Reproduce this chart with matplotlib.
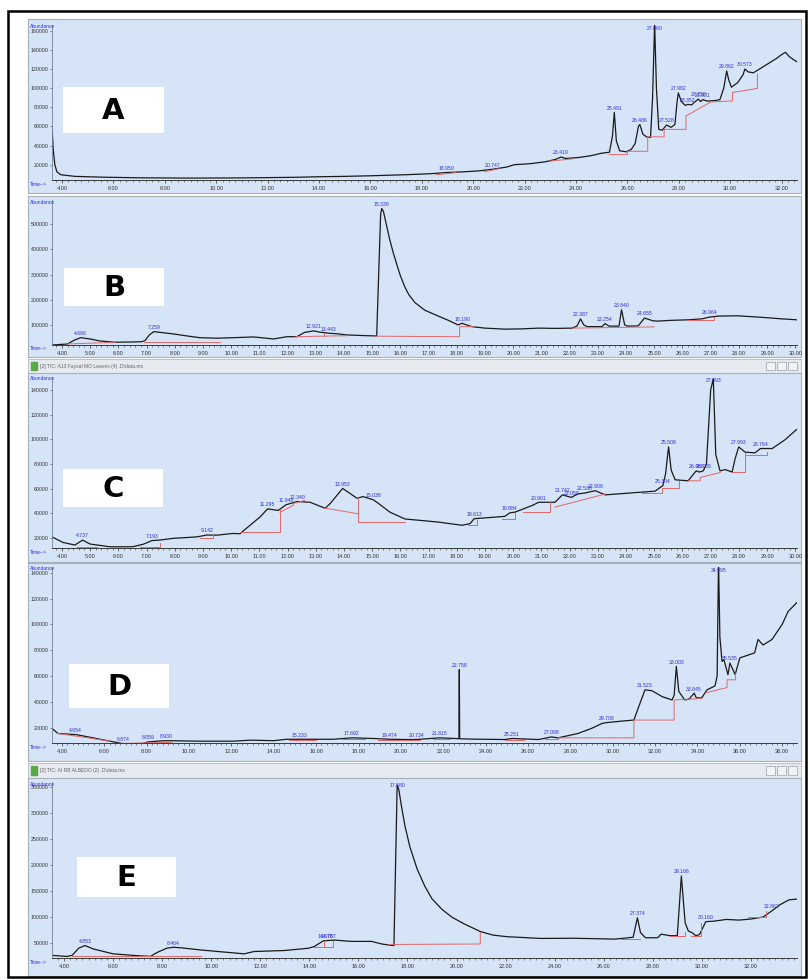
import numpy as np
import matplotlib.pyplot as plt
from matplotlib.patches import Rectangle
from matplotlib.ticker import MultipleLocator, FormatStrFormatter

plt.rcParams['font.family'] = ['Liberation Sans', 'DejaVu Sans']

# ---------------- data (retention time in min, abundance) ----------------
a_time = [3.61, 3.66, 3.72, 3.8, 3.95, 4.5, 5.5, 7, 9, 11, 12, 13, 14, 15, 16, 17.35, 18.3, 18.95,
          19.6, 20.2, 20.747, 21.3, 21.6, 22.2, 22.8, 23.2, 23.419, 23.6, 24.1, 24.6, 25.0, 25.3,
          25.42, 25.491, 25.57, 25.7, 25.95, 26.15, 26.3, 26.43, 26.486, 26.6, 26.75, 26.9, 26.98,
          27.06, 27.13, 27.22, 27.35, 27.528, 27.7, 27.85, 27.93, 27.982, 28.1, 28.25, 28.352, 28.5,
          28.6, 28.758, 28.85, 28.931, 29.1, 29.4, 29.6, 29.75, 29.862, 29.95, 30.05, 30.3, 30.5,
          30.573, 30.7, 30.9, 31.2, 31.5, 31.8, 32.0, 32.15, 32.3, 32.45, 32.6]
a_abund = [60000, 35000, 20000, 12600, 9500, 7800, 7000, 6300, 6000, 6200, 6500, 6800, 7400, 7800,
           8400, 9500, 10500, 11800, 12500, 13500, 15200, 17500, 20000, 21000, 23000, 25500, 28000,
           26500, 27500, 29500, 32000, 33000, 50000, 74700, 45000, 34500, 33500, 36000, 42000, 60000,
           62000, 52000, 49000, 48500, 90000, 168000, 100000, 57000, 56000, 61500, 59000, 62000, 85000,
           95000, 86000, 82000, 83000, 82500, 85000, 88500, 86000, 88000, 86500, 87000, 88000, 100000,
           118000, 108000, 101000, 106000, 114000, 120000, 117000, 116000, 121000, 126000, 131000,
           135000, 137500, 133000, 130000, 127500]
a_base = [([18.55, 19.33], [9500, 11700]),
          ([20.43, 21.0], [12600, 15800]),
          ([22.96, 23.87], [23700, 26100]),
          ([25.29, 26.0, 26.0, 26.79, 26.79, 27.43, 27.43, 28.28, 28.28, 29.25, 30.09, 30.09, 31.06, 31.06],
           [30500, 30500, 34000, 34000, 49100, 49100, 56900, 56900, 70900, 85600, 86700, 95500, 99700, 114800])]
a_peaks = ["18.950", "20.747", "23.419", "25.491", "26.486", "27.060", "27.528", "27.982",
           "28.352", "28.758", "28.931", "29.862", "30.573"]

b_time = [3.65, 4.2, 4.45, 4.666, 5.0, 5.35, 5.88, 6.5, 6.83, 6.95, 7.1, 7.259, 7.5, 7.95, 8.5, 8.9,
          9.5, 10.07, 10.8, 11.5, 11.98, 12.33, 12.6, 12.921, 13.15, 13.443, 13.8, 14.1, 14.8, 15.16,
          15.30, 15.339, 15.40, 15.5, 15.62, 15.75, 15.9, 16.0, 16.16, 16.3, 16.52, 16.87, 17.34,
          17.7, 18.04, 18.19, 18.53, 19.0, 19.7, 20.3, 20.88, 21.5, 22.08, 22.26, 22.387, 22.5, 22.62,
          23.15, 23.254, 23.4, 23.75, 23.84, 23.95, 24.05, 24.43, 24.655, 24.96, 25.13, 25.6, 26.2,
          26.7, 26.964, 27.3, 27.97, 28.93, 29.5, 30.06]
b_abund = [20000, 24000, 40000, 49000, 44000, 36000, 31000, 32000, 33000, 38000, 60000, 73000, 70000,
           64000, 55000, 49000, 47000, 49000, 52000, 44000, 53000, 53000, 70000, 76000, 71000, 67000,
           64000, 60000, 57000, 56000, 540000, 562000, 550000, 500000, 440000, 385000, 330000, 295000,
           250000, 220000, 188000, 158000, 135000, 118000, 100000, 106000, 93000, 87000, 83000, 84000,
           87000, 86000, 87000, 95000, 124000, 100000, 93000, 93000, 105000, 95000, 95000, 160000,
           100000, 95000, 96000, 127000, 116000, 115000, 118000, 120000, 124000, 131000, 135000,
           136000, 129000, 124000, 120000]
b_base = [([4.2, 5.9], [24000, 31000]),
          ([6.9, 9.6], [33000, 33000]),
          ([12.3, 14.1], [53000, 57000]),
          ([13.3, 13.3], [55000, 66000]),
          ([15.1, 18.1, 18.1, 18.6], [55000, 53000, 93000, 93000]),
          ([22.1, 25.0], [87000, 92000]),
          ([26.2, 27.1, 27.1], [120000, 120000, 133000])]
b_peaks = ["4.666", "7.259", "12.921", "13.443", "15.339", "18.190", "22.387", "23.254", "23.840",
           "24.655", "26.964"]

c_time = [3.65, 4.04, 4.46, 4.737, 5.0, 5.7, 6.5, 6.88, 7.193, 7.5, 7.94, 8.79, 9.142, 9.5, 10.07,
          10.31, 10.67, 11.02, 11.295, 11.67, 11.946, 12.34, 12.8, 13.33, 13.5, 13.953, 14.21, 14.46,
          14.68, 15.038, 15.17, 15.63, 16.16, 17.34, 18.18, 18.47, 18.613, 19.7, 19.884, 20.06, 20.67,
          20.901, 21.48, 21.742, 22.058, 22.3, 22.538, 22.909, 23.26, 24.43, 25.03, 25.21, 25.304, 25.4,
          25.508, 25.6, 25.74, 26.2, 26.486, 26.6, 26.738, 26.85, 27.0, 27.093, 27.18, 27.33, 27.51,
          27.76, 27.86, 27.993, 28.22, 28.57, 28.764, 29.18, 29.64, 30.05]
c_abund = [21000, 16500, 14400, 18400, 15200, 13000, 13000, 15000, 18000, 18500, 19800, 21000, 22500,
           22400, 23800, 23500, 30400, 37000, 43700, 42400, 47000, 49600, 49000, 44200, 47700, 60200,
           56200, 52300, 53600, 51000, 49000, 41000, 35500, 33000, 30400, 31700, 35700, 37600, 40500,
           41000, 46400, 49000, 49000, 55000, 53000, 55800, 56500, 58400, 55000, 57000, 58000, 61000,
           62500, 72000, 93800, 75000, 67200, 66400, 74400, 73500, 74400, 80000, 140000, 149000, 87700,
           74400, 75500, 73500, 83700, 93800, 89600, 89000, 92500, 92500, 99700, 108000]
c_base = [([4.52, 5.23], [13000, 13000]),
          ([6.77, 7.48, 7.48], [13000, 13000, 15700]),
          ([8.9, 9.37, 9.37], [20300, 20300, 22900]),
          ([10.31, 11.73, 11.73], [25100, 25100, 42500]),
          ([11.73, 12.2, 12.2, 12.6], [41000, 46400, 48000, 50400]),
          ([13.32, 14.5], [44300, 39700]),
          ([14.5, 14.5, 16.16], [53100, 33100, 33100]),
          ([18.41, 18.71, 18.71], [30400, 30400, 34500]),
          ([19.6, 20.07, 20.07], [35700, 35700, 40000]),
          ([20.36, 21.3, 21.3], [41000, 41000, 49000]),
          ([21.48, 23.26], [45100, 55700]),
          ([24.56, 25.27, 25.27, 25.86, 25.86], [56500, 56500, 60300, 60300, 66400]),
          ([26.21, 26.63, 26.63, 27.34], [66400, 66400, 69100, 73100]),
          ([27.75, 28.22, 28.22], [73600, 73600, 89100]),
          ([28.22, 28.99, 28.99], [87100, 87100, 90100])]
c_peaks = ["4.737", "7.193", "9.142", "11.295", "11.946", "12.340", "13.953", "15.038", "18.613",
           "19.884", "20.901", "21.742", "22.058", "22.538", "22.909", "25.304", "25.508", "26.486",
           "26.738", "27.093", "27.993", "28.764"]

d_time = [3.53, 3.81, 4.654, 5.0, 6.27, 6.874, 7.2, 7.68, 8.059, 8.63, 8.93, 10.5, 12.08, 12.9, 14.0,
          14.6, 15.233, 16.8, 17.692, 18.7, 19.474, 20.2, 20.734, 21.815, 22.55, 22.74, 22.758, 22.775,
          23.36, 24.9, 25.251, 26.5, 27.098, 27.42, 28.36, 29.0, 29.5, 29.708, 30.44, 31.0, 31.2,
          31.523, 31.86, 32.33, 32.8, 32.9, 33.003, 33.12, 33.4, 33.6, 33.845, 33.95, 34.2, 34.45,
          34.83, 34.93, 34.995, 35.06, 35.16, 35.25, 35.44, 35.535, 35.78, 36.0, 36.7, 36.86, 37.1,
          37.52, 38.0, 38.28, 38.7]
d_abund = [19300, 15400, 14500, 13500, 9400, 7500, 7000, 7000, 8800, 9600, 9800, 9400, 9400, 10200,
           9800, 10900, 10900, 10900, 12000, 11500, 10900, 10700, 10700, 12000, 11500, 11300, 65000,
           11300, 11000, 10700, 11500, 10700, 12700, 12000, 15400, 19300, 23200, 23800, 25000, 25800,
           34900, 49200, 48500, 44000, 41400, 45000, 67400, 48000, 41400, 42000, 46600, 43000, 43000,
           49200, 52300, 60000, 150000, 90000, 71300, 72600, 61000, 70000, 61000, 74000, 77900, 88300,
           84000, 88300, 100000, 110000, 117000]
d_base = [([3.81, 6.27], [15400, 9400]),
          ([6.3, 9.2], [7500, 8500]),
          ([14.7, 16.0], [10000, 10000]),
          ([17.2, 18.3], [11000, 11000]),
          ([18.9, 20.9], [10000, 10000]),
          ([21.5, 22.3], [11000, 11000]),
          ([24.9, 25.8], [10500, 10500]),
          ([26.8, 27.4], [11300, 11300]),
          ([27.42, 31.0, 31.0, 32.9, 32.9, 34.2], [12000, 12000, 25800, 25800, 41400, 42500]),
          ([34.4, 35.4, 35.4, 35.8, 35.8], [47000, 51000, 57000, 57000, 62000])]
d_peaks = ["4.654", "6.874", "8.059", "8.930", "15.233", "17.692", "19.474", "20.734", "21.815",
           "22.758", "25.251", "27.098", "29.708", "31.523", "33.003", "33.845", "34.995", "35.535"]

e_time = [3.51, 4.12, 4.33, 4.6, 4.853, 5.19, 6.0, 6.83, 7.52, 7.81, 8.2, 8.464, 8.8, 9.57, 11.34,
          11.75, 12.98, 13.96, 14.2, 14.57, 14.7, 15.02, 15.72, 16.54, 16.95, 17.24, 17.45, 17.58,
          17.65, 17.75, 17.9, 18.1, 18.39, 18.7, 19.0, 19.4, 19.8, 20.3, 20.97, 21.5, 22.07, 23.43,
          24.82, 26.46, 26.87, 27.2, 27.374, 27.5, 27.7, 28.2, 28.34, 28.7, 29.0, 29.166, 29.32, 29.45,
          29.6, 29.75, 29.9, 30.05, 30.16, 30.5, 31.0, 31.5, 32.0, 32.5, 32.862, 33.2, 33.55, 33.88]
e_abund = [26000, 24000, 26000, 40000, 45000, 38500, 29000, 26000, 24000, 32000, 40000, 41700, 40500,
           36500, 29000, 33500, 35400, 39800, 43000, 54000, 54500, 55500, 53000, 53000, 48000, 46000,
           45000, 354000, 345000, 315000, 275000, 235000, 193000, 160000, 135000, 115000, 100000,
           87000, 72000, 65000, 62000, 58700, 59000, 57400, 59300, 61000, 98500, 70000, 60000, 60000,
           66900, 64000, 64000, 179000, 89000, 73000, 70000, 64000, 66000, 80000, 91000, 92000, 95300,
           94000, 96000, 100000, 112000, 124000, 133000, 134500]
e_base = [([4.33, 9.6], [24000, 24000]),
          ([14.16, 14.98, 14.98], [41700, 41700, 54000]),
          ([14.6, 14.6], [41700, 53000]),
          ([17.24, 20.97, 20.97], [47000, 48000, 70000]),
          ([26.7, 27.5], [57400, 57400]),
          ([28.7, 29.3, 29.3], [63000, 63000, 72000]),
          ([29.57, 29.98, 29.98], [64000, 64000, 89000]),
          ([31.9, 32.6, 32.6], [99800, 99800, 112000])]
e_peaks = ["4.853", "8.464", "14.676", "14.787", "17.580", "27.374", "29.166", "30.160", "32.862"]

# ---------------- drawing ----------------
W, H = 810, 980
BG = '#d6e4f7'
TRACE = '#1a1a1a'
RED = '#e06868'
LBL = '#2f2fd8'

fig = plt.figure(figsize=(W / 100, H / 100), dpi=100)


def box(x0, y0, x1, y1):
    return fig.add_axes([x0 / W, 1 - y1 / H, (x1 - x0) / W, (y1 - y0) / H])


def title_bar(y0, y1, text):
    tb = box(28, y0, 801, y1)
    tb.set_facecolor('#e6eaf0')
    tb.set_xticks([]); tb.set_yticks([])
    for s in tb.spines.values():
        s.set_color('#b4bac4'); s.set_linewidth(0.6)
    tb.set_xlim(28, 801); tb.set_ylim(y1, y0)
    tb.add_patch(Rectangle((31, y0 + 3), 6, (y1 - y0) - 6, color='#5aa848'))
    tb.text(40, (y0 + y1) / 2, text, fontsize=3.6, color='#666666', va='center')
    for bx in (766, 777, 788):
        tb.add_patch(Rectangle((bx, y0 + 3), 9, (y1 - y0) - 6, fc='#f1f3f6', ec='#9aa0aa', lw=0.5))


def panel(t, a, base, peaks, letter, lbox, win, axy, xlim, ylim, xmaj, xmin_, ystep):
    w = box(28, win[0], 801, win[1])
    w.set_facecolor(BG)
    w.set_xticks([]); w.set_yticks([])
    for s in w.spines.values():
        s.set_color('#a8b0bc'); s.set_linewidth(0.8)

    lb = box(*lbox)
    lb.set_facecolor('white')
    lb.set_xticks([]); lb.set_yticks([])
    for s in lb.spines.values():
        s.set_visible(False)
    lb.text(0.5, 0.48, letter, ha='center', va='center', fontsize=21, fontweight='bold',
            family='DejaVu Sans', transform=lb.transAxes)

    ax = box(52, axy[0], 797, axy[1])
    ax.patch.set_alpha(0)
    ax.plot(t, a, color=TRACE, lw=0.9)
    for bx, by in base:
        ax.plot(bx, by, color=RED, lw=0.7)
    ax.set_xlim(*xlim)
    ax.set_ylim(*ylim)
    for p in peaks:
        rt = float(p)
        y = np.interp(rt, t, a)
        if y > ylim[1] * 0.97:
            ax.annotate(p, (rt, ylim[1]), xytext=(0, -0.5), textcoords='offset points', ha='center',
                        va='top', fontsize=3.7, color=LBL, annotation_clip=False)
        else:
            ax.annotate(p, (rt, y), xytext=(0, 1.2), textcoords='offset points', ha='center',
                        va='bottom', fontsize=3.7, color=LBL, annotation_clip=False)

    ax.xaxis.set_major_locator(MultipleLocator(xmaj))
    ax.xaxis.set_minor_locator(MultipleLocator(xmin_))
    ax.xaxis.set_major_formatter(FormatStrFormatter('%.2f'))
    ax.yaxis.set_major_locator(MultipleLocator(ystep))
    ax.yaxis.set_major_formatter(FormatStrFormatter('%d'))
    ax.tick_params(axis='x', which='major', length=2.5, width=0.5, labelsize=4, pad=1.5,
                   colors='#333333')
    ax.tick_params(axis='x', which='minor', length=1.5, width=0.4, colors='#333333')
    ax.tick_params(axis='y', length=1.5, width=0.4, labelsize=3.8, pad=0.8, colors='#333333')
    ax.spines['top'].set_visible(False)
    ax.spines['right'].set_visible(False)
    ax.spines['bottom'].set_color('#3a3a3a')
    ax.spines['bottom'].set_linewidth(0.7)
    ax.spines['left'].set_color('#7585a0')
    ax.spines['left'].set_linewidth(0.6)
    ax.spines['left'].set_linestyle((0, (1.5, 1)))

    fig.text(30 / W, 1 - (axy[0] + 2) / H, 'Abundance', fontsize=3.5, color='#2f2fd8', va='center')
    fig.text(30 / W, 1 - (axy[1] + 4) / H, 'Time-->', fontsize=3.5, color='#2f2fd8', va='center')


panel(a_time, a_abund, a_base, a_peaks, 'A', (63, 87, 164, 133), (19, 193), (25, 180),
      (3.61, 32.6), (4000, 166000), 2, 0.25, 20000)
panel(b_time, b_abund, b_base, b_peaks, 'B', (64, 268, 164, 306), (196, 357), (200, 345),
      (3.65, 30.06), (20000, 596000), 1, 0.2, 100000)
title_bar(359, 373, '[2] TIC: A13 Faysal MO Leaves (4) .D\\data.ms')
panel(c_time, c_abund, c_base, c_peaks, 'C', (63, 469, 163, 507), (373, 562), (377, 548),
      (3.65, 30.06), (12000, 150400), 1, 0.2, 20000)
panel(d_time, d_abund, d_base, d_peaks, 'D', (69, 664, 169, 708), (563, 761), (567, 743),
      (3.53, 38.7), (8000, 144500), 2, 0.25, 20000)
title_bar(763, 778, '[2] TIC: AI RB ALBEDO (2) .D\\data.ms')
panel(e_time, e_abund, e_base, e_peaks, 'E', (77, 857, 176, 897), (778, 976), (782, 958),
      (3.51, 33.88), (21000, 360000), 2, 0.25, 50000)

fig.add_artist(Rectangle((8 / W, 1 - 977 / H), 798 / W, 966 / H, transform=fig.transFigure,
                         fill=False, lw=1.8, ec='black'))

fig.savefig('out.png', dpi=100, facecolor='white')
